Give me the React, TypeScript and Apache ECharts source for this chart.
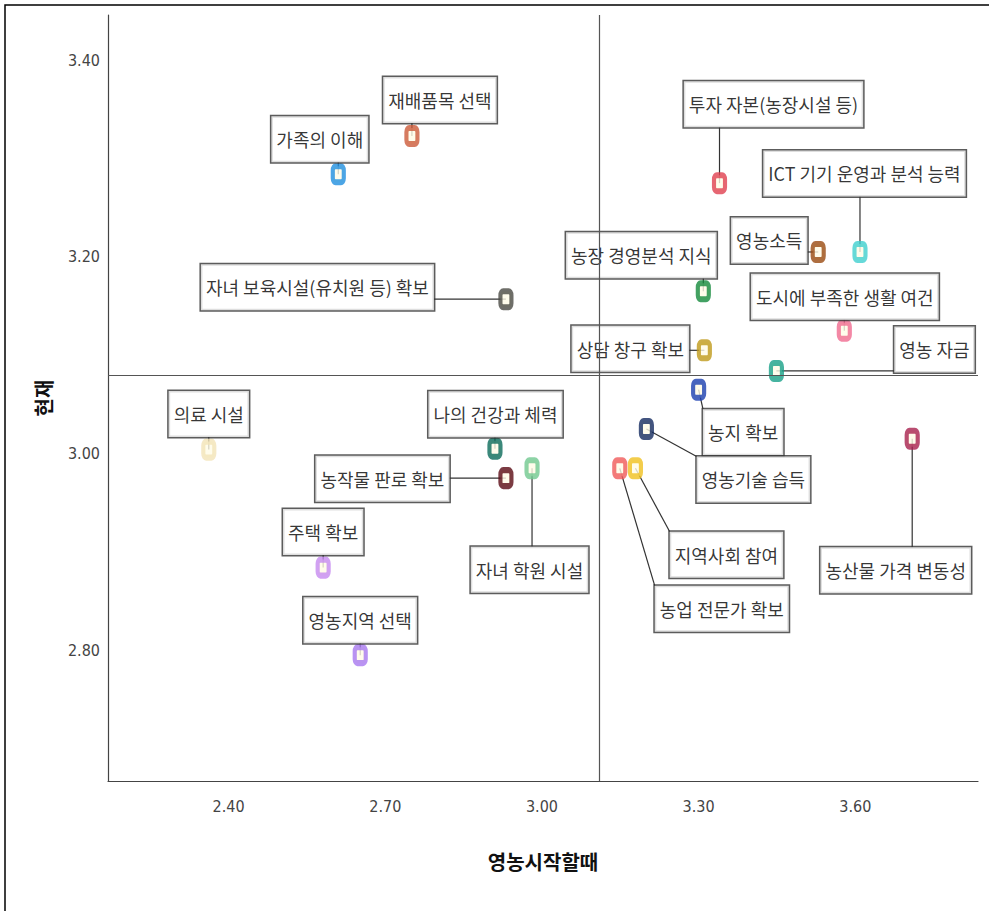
import React, { useEffect, useRef } from 'react';
import * as echarts from 'echarts';

// 항목
const itemNames = [
  '가족의 이해',
  '재배품목 선택',
  '자녀 보육시설(유치원 등) 확보',
  '투자 자본(농장시설 등)',
  'ICT 기기 운영과 분석 능력',
  '영농소득',
  '농장 경영분석 지식',
  '도시에 부족한 생활 여건',
  '상담 창구 확보',
  '영농 자금',
  '농지 확보',
  '영농기술 습득',
  '농산물 가격 변동성',
  '농업 전문가 확보',
  '지역사회 참여',
  '자녀 학원 시설',
  '농작물 판로 확보',
  '나의 건강과 체력',
  '의료 시설',
  '주택 확보',
  '영농지역 선택',
];

// 영농시작할때 (x)
const startValues = [
  2.61, 2.751, 2.931, 3.34, 3.609, 3.529, 3.309, 3.579, 3.311, 3.449, 3.3,
  3.2, 3.709, 3.149, 3.179, 2.981, 2.931, 2.91, 2.362, 2.581, 2.652,
];

// 현재 (y)
const currentValues = [
  3.284, 3.323, 3.157, 3.275, 3.205, 3.205, 3.165, 3.125, 3.105, 3.084, 3.065,
  3.025, 3.015, 2.985, 2.985, 2.985, 2.975, 3.005, 3.004, 2.884, 2.795,
];

const xTickValues = [2.4, 2.7, 3.0, 3.3, 3.6];
const yTickValues = [2.8, 3.0, 3.2, 3.4];
const xReference = 3.111;
const yReference = 3.078;

// styling / layout (not data)
const markerColors = [
  '#1f8fe0', '#cc5a3a', '#4a4a44', '#e04050', '#40d0d0', '#9a4a10', '#148a3c',
  '#f06a90', '#bf9a1a', '#18a088', '#1a3eb0', '#142a60', '#a8204e', '#f05a5a',
  '#f0c020', '#70c890', '#5a0a14', '#0a6a5a', '#f2e4b8', '#c58af0', '#a878f0',
];

const labelOffsets: number[][] = [
  [-18.5, -35],
  [28, -36],
  [-188.5, -12],
  [54, -79],
  [4.5, -78.5],
  [-49, -11.5],
  [-62, -36],
  [0.5, -34],
  [-74, -1.5],
  [158, -21.5],
  [44.5, 42.5],
  [107, 50.5],
  [-16.5, 131.5],
  [102, 140.5],
  [91, 86.5],
  [-2.5, 101.5],
  [-123.5, 0.5],
  [0.5, -34.5],
  [0, -35.5],
  [0, -35.5],
  [0, -35],
];

const NARROW = "'Liberation Sans Narrow', 'DejaVu Sans Condensed', 'Liberation Sans', sans-serif";
const KR = "'Noto Sans CJK KR', 'Noto Sans', sans-serif";
const LABEL_FONT_SIZE = 18;
const LABEL_PAD_V = 14;
const LABEL_PAD_H = 5;

let measureCtx: CanvasRenderingContext2D | null = null;
function measureLabel(text: string): number {
  if (!measureCtx) {
    const c = document.createElement('canvas');
    measureCtx = c.getContext('2d');
  }
  if (!measureCtx) return text.length * LABEL_FONT_SIZE;
  measureCtx.font = `${LABEL_FONT_SIZE}px ${KR}`;
  return measureCtx.measureText(text).width;
}

export default function App() {
  const ref = useRef<HTMLDivElement>(null);

  useEffect(() => {
    if (!ref.current) return;
    const chart = echarts.init(ref.current, undefined, { renderer: 'svg' });

    const points = itemNames.map((_, i) => [startValues[i], currentValues[i]]);
    const data = itemNames.map((name, i) => ({
      name,
      value: points[i],
      itemStyle: { borderColor: markerColors[i] },
    }));

    const option: any = {
      animation: false,
      backgroundColor: '#ffffff',
      grid: { left: 108, right: 11, top: 15, bottom: 130, containLabel: false },
      xAxis: {
        type: 'value',
        min: 2.169,
        max: 3.835,
        name: '영농시작할때',
        nameLocation: 'middle',
        nameGap: 70,
        nameTextStyle: { fontFamily: KR, fontSize: 20, fontWeight: 'bold', color: '#111' },
        axisLine: { show: true, onZero: false, lineStyle: { color: '#444', width: 1.2 } },
        axisTick: { show: false },
        splitLine: { show: false },
        axisLabel: {
          customValues: xTickValues,
          formatter: (v: number) => v.toFixed(2),
          margin: 17,
          fontFamily: NARROW,
          fontSize: 16,
          color: '#444',
        },
      },
      yAxis: {
        type: 'value',
        min: 2.667,
        max: 3.446,
        name: '현재',
        nameLocation: 'middle',
        nameRotate: 90,
        nameGap: 55,
        nameTextStyle: { fontFamily: KR, fontSize: 20, fontWeight: 'bold', color: '#111' },
        axisLine: { show: true, onZero: false, lineStyle: { color: '#444', width: 1.2 } },
        axisTick: { show: false },
        splitLine: { show: false },
        axisLabel: {
          customValues: yTickValues,
          formatter: (v: number) => v.toFixed(2),
          margin: 8,
          fontFamily: NARROW,
          fontSize: 16,
          color: '#444',
        },
      },
      series: [
        {
          type: 'scatter',
          z: 1,
          data: [],
          silent: true,
          markLine: {
            silent: true,
            symbol: ['none', 'none'],
            label: { show: false },
            lineStyle: { color: '#555', width: 1.2, type: 'solid' },
            data: [{ xAxis: xReference }, { yAxis: yReference }],
          },
        },
        {
          // leader lines from each point to the nearest edge of its label box
          type: 'custom',
          z: 2,
          silent: true,
          data: points,
          encode: { x: 0, y: 1 },
          renderItem: (params: any, api: any) => {
            const i = params.dataIndex;
            const p = api.coord([api.value(0), api.value(1)]);
            const o = labelOffsets[i] || [0, 0];
            const cx = p[0] + o[0];
            const cy = p[1] + o[1];
            const w = measureLabel(itemNames[i]) + LABEL_PAD_H * 2;
            const h = LABEL_FONT_SIZE + LABEL_PAD_V * 2;
            const qx = Math.min(Math.max(p[0], cx - w / 2), cx + w / 2);
            const qy = Math.min(Math.max(p[1], cy - h / 2), cy + h / 2);
            return {
              type: 'line',
              shape: { x1: p[0], y1: p[1], x2: qx, y2: qy },
              style: { stroke: '#333', lineWidth: 1.2 },
            };
          },
        },
        {
          type: 'scatter',
          z: 3,
          data,
          symbol: 'roundRect',
          symbolSize: [11, 16],
          itemStyle: { color: '#fffbe6', borderWidth: 5 },
          emphasis: { disabled: true },
          label: {
            show: true,
            position: 'inside',
            formatter: '{b}',
            fontFamily: KR,
            fontSize: LABEL_FONT_SIZE,
            lineHeight: LABEL_FONT_SIZE,
            color: '#000',
            align: 'center',
            verticalAlign: 'middle',
            backgroundColor: '#ffffff',
            borderColor: '#333',
            borderWidth: 1.5,
            padding: [LABEL_PAD_V, LABEL_PAD_H],
          },
          labelLayout: (params: any) => {
            const o = labelOffsets[params.dataIndex] || [0, 0];
            return { dx: o[0], dy: o[1] };
          },
        },
      ],
      graphic: [
        {
          type: 'rect',
          silent: true,
          shape: { x: 5, y: 5, width: 1000, height: 1000 },
          style: { fill: 'none', stroke: '#000', lineWidth: 1.5 },
        },
      ],
    };

    chart.setOption(option);
    return () => chart.dispose();
  }, []);

  return (
    <div
      ref={ref}
      style={{ position: 'fixed', left: 0, top: 0, width: 989, height: 911, background: '#fff' }}
    />
  );
}
